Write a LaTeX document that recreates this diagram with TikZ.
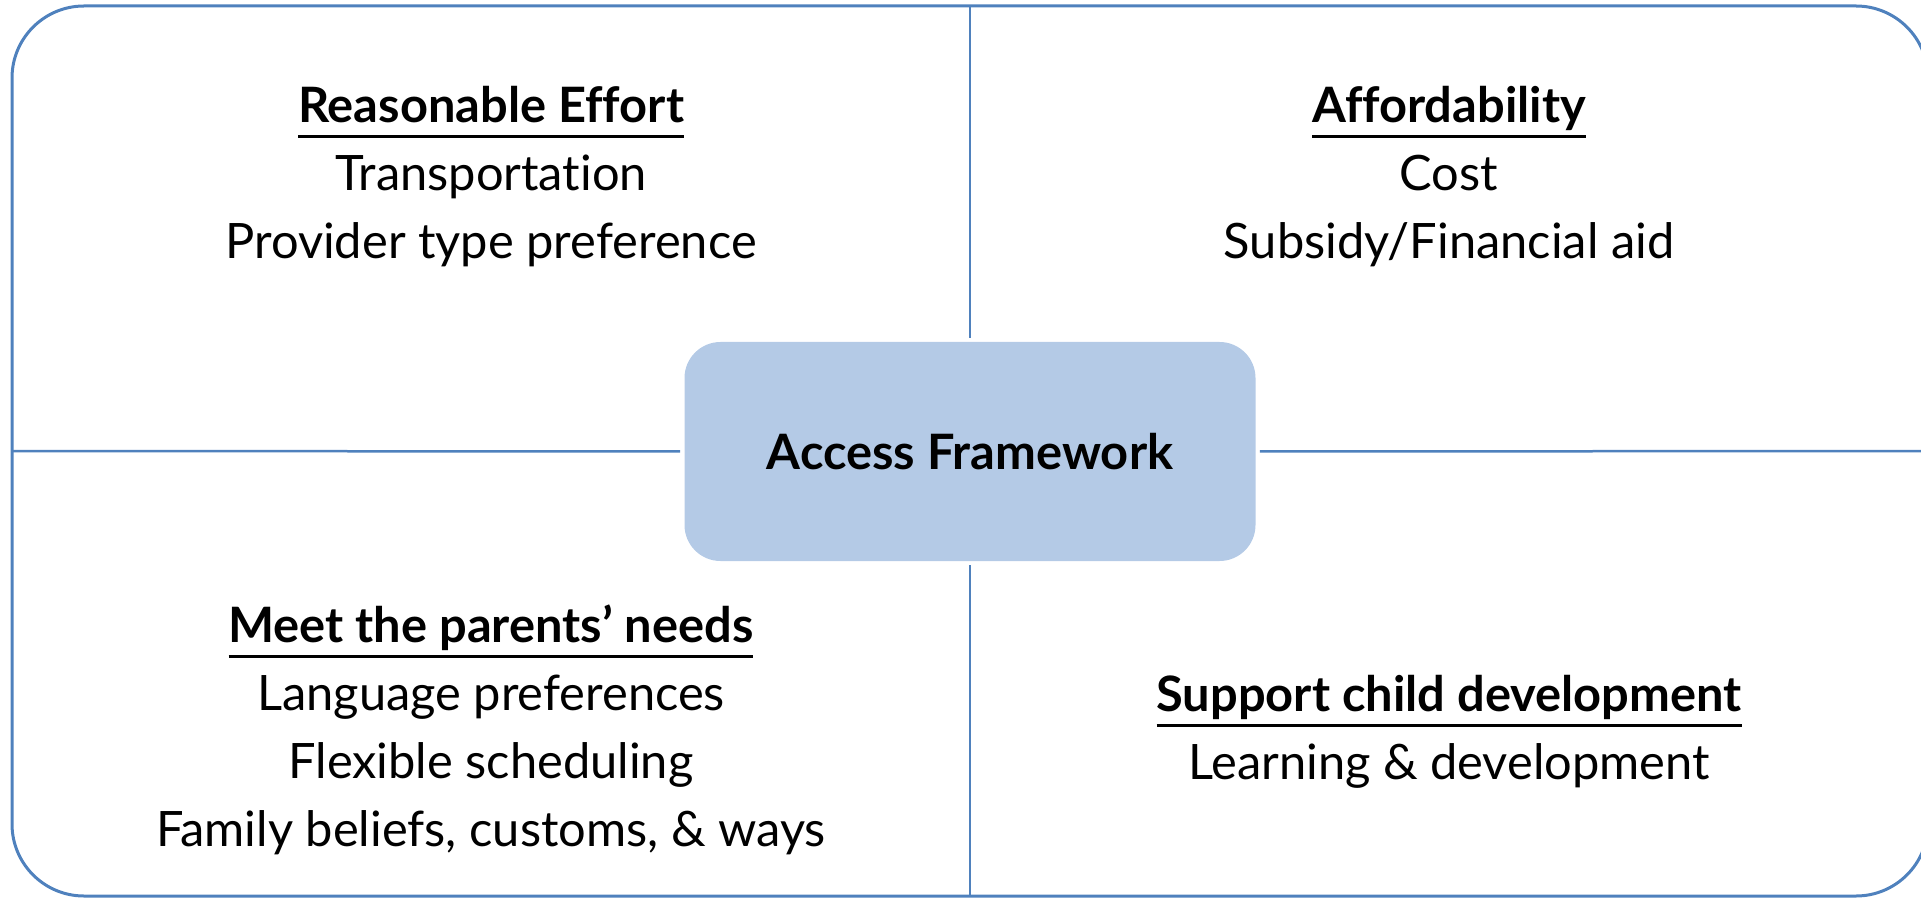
\documentclass[tikz,border=0pt]{standalone}
\usepackage{fontspec}
\setmainfont{Lato}[Ligatures=NoCommon]
\usetikzlibrary{positioning}
\definecolor{frameblue}{HTML}{4F81BD}
\definecolor{hubfill}{HTML}{B4CAE6}
\newcommand{\headline}[1]{\setbox0\hbox{\bfseries #1}\rlap{\rule[-7.5pt]{\wd0}{1.5pt}}\box0}
\tikzset{
  quad/.style={align=center, inner sep=0pt, font=\fontsize{24.4}{34}\selectfont},
  hub/.style={rounded corners=18pt, fill=hubfill, minimum width=285.5pt, minimum height=109.5pt, inner sep=0pt, font=\fontsize{24.4}{34}\selectfont\bfseries},
  divider/.style={frameblue, line width=1.25pt}
}
\begin{document}
\begin{tikzpicture}[x=0.5pt,y=-0.5pt]
\clip (0,0) rectangle (1921,898);
\draw[frameblue, line width=1.5pt, rounded corners=36pt] (12,6) rectangle (1928,896);
\coordinate (ftop) at (970,6);
\coordinate (fbot) at (970,896);
\coordinate (fleft) at (12,451);
\coordinate (fright) at (1928,451);
\node[hub] (hub) at (970,451.5) {Access Framework};
\draw[divider, shorten >=2pt](ftop) -- (hub.north);
\draw[divider, shorten >=2pt](fbot) -- (hub.south);
\draw[divider, shorten >=2pt](fleft) -- (hub.west);
\draw[divider, shorten >=2pt](fright) -- (hub.east);
\node[quad] (blk1) at (491,177) {\headline{Reasonable Effort}\\Transportation\\Provider type preference};
\node[quad] (blk2) at (1449,177) {\headline{Affordability}\\Cost\\Subsidy/Financial aid};
\node[quad] (blk3) at (491,730) {\headline{Meet the parents’ needs}\\Language preferences\\Flexible scheduling\\Family beliefs, customs, \& ways};
\node[quad] (blk4) at (1449,732) {\headline{Support child development}\\Learning \& development};
\end{tikzpicture}
\end{document}
